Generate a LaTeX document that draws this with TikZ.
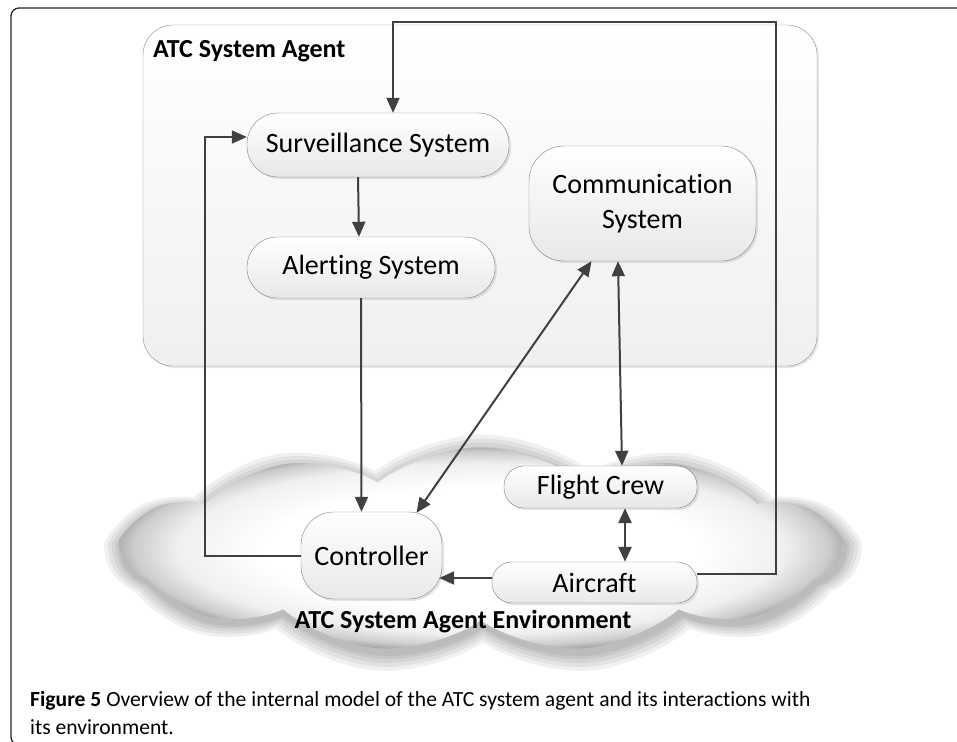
\documentclass[tikz,border=0pt]{standalone}
\usepackage{fontspec}
\setmainfont{Carlito}[Ligatures=NoCommon]
\usetikzlibrary{positioning,arrows.meta,shapes.symbols,shadows}
\pgfdeclareradialshading{cloudrim}{\pgfpoint{0bp}{0bp}}{%
  color(0bp)=(white); color(15bp)=(white); color(21bp)=(black!6);
  color(24bp)=(black!20); color(25.5bp)=(black!36); color(50bp)=(black!36)}
\tikzset{box/.style={draw=black!50,top color=white,bottom color=black!9,
  rounded corners=30pt,text=black,inner sep=0pt,align=center,
  font=\fontsize{28}{35}\selectfont,
  drop shadow={shadow xshift=2pt,shadow yshift=-2pt,opacity=0.2}},
  link/.style={draw=black!75,line width=2pt,-{Triangle[length=15pt,width=13pt]}},
  twoway/.style={link,{Triangle[length=15pt,width=13pt]}-{Triangle[length=15pt,width=13pt]}},
  title/.style={font=\bfseries\fontsize{26}{30}\selectfont,inner sep=0pt},
  cloudy/.style={cloud,cloud puffs=11,cloud puff arc=75,cloud ignores aspect,inner sep=0pt}}

\begin{document}
\begin{tikzpicture}[x=1pt,y=-1pt]
  \useasboundingbox (0,0) rectangle (957,741);
  % frame of the figure
  \draw[black!85,line width=1.3pt,rounded corners=8pt] (980,8) -- (11,8) -- (11,745) -- (40,745);
  % environment cloud
  \foreach \g in {18,14,10,6,3}
    \node[cloudy,fill=black,opacity=0.06,minimum width=715pt+2*\g pt,minimum height=205pt+2*\g pt] at (483,555) {};
  \node[cloudy,shade,shading=cloudrim,minimum width=715pt,minimum height=205pt] (env) at (481,550) {};
  \node[title,anchor=base] (envlabel) at (463,628) {ATC System Agent Environment};
  % agent box
  \node[box,rounded corners=30pt,bottom color=black!6,draw=black!45,minimum width=674pt,minimum height=341pt] (agent) at (480,195.5) {};
  \node[title,anchor=base west] (agentlabel) at (153,58) {ATC System Agent};
  % components
  \node[box,rounded corners=31pt,minimum width=262pt,minimum height=64pt] (surv) at (378,145) {Surveillance System};
  \node[box,rounded corners=30pt,minimum width=248pt,minimum height=61pt] (alert) at (371,267.5) {Alerting System};
  \node[box,rounded corners=35pt,minimum width=227pt,minimum height=115pt] (comm) at (642.5,203.5) {Communication\\System};
  \node[box,rounded corners=33pt,minimum width=141pt,minimum height=87pt] (ctrl) at (371.5,555.5) {Controller};
  \node[box,rounded corners=20pt,minimum width=193pt,minimum height=42pt] (fcrew) at (600.5,487) {Flight Crew};
  \node[box,rounded corners=20pt,minimum width=205pt,minimum height=41pt] (aircraft) at (594.5,582.5) {Aircraft};
  % connectors
  \coordinate (ne) at (776,22);
  \coordinate (nw) at (205,137);
  \draw[link] ([yshift=8.5pt]aircraft.east) -| (ne) -| ([xshift=15pt]surv.north);
  \draw[link] (ctrl.west) -| (nw) -- ([yshift=8pt]surv.west);
  \draw[link] ([xshift=-20pt]surv.south) -- ([xshift=-12pt]alert.north);
  \draw[link] ([xshift=-10pt]alert.south) -- ([xshift=-10pt]ctrl.north);
  \draw[twoway] ([xshift=45pt,yshift=-1pt]ctrl.north) -- ([xshift=-51pt]comm.south);
  \draw[twoway] ([xshift=-24.5pt]comm.south) -- ([xshift=21.5pt]fcrew.north);
  \draw[twoway,line width=2.6pt] ([xshift=24.5pt]fcrew.south) -- ([xshift=30.5pt]aircraft.north);
  \draw[link] ([yshift=4.5pt]aircraft.west) -- ([xshift=-3pt,yshift=-22.5pt]ctrl.east);
  % caption
  \node[anchor=base west,inner sep=0pt,font=\fontsize{21.6}{27}\selectfont] (cap1) at (30,706)
    {\textbf{Figure 5} Overview of the internal model of the ATC system agent and its interactions with};
  \node[anchor=base west,inner sep=0pt,font=\fontsize{21.6}{27}\selectfont] (cap2) at (30,734) {its environment.};
\end{tikzpicture}
\end{document}
